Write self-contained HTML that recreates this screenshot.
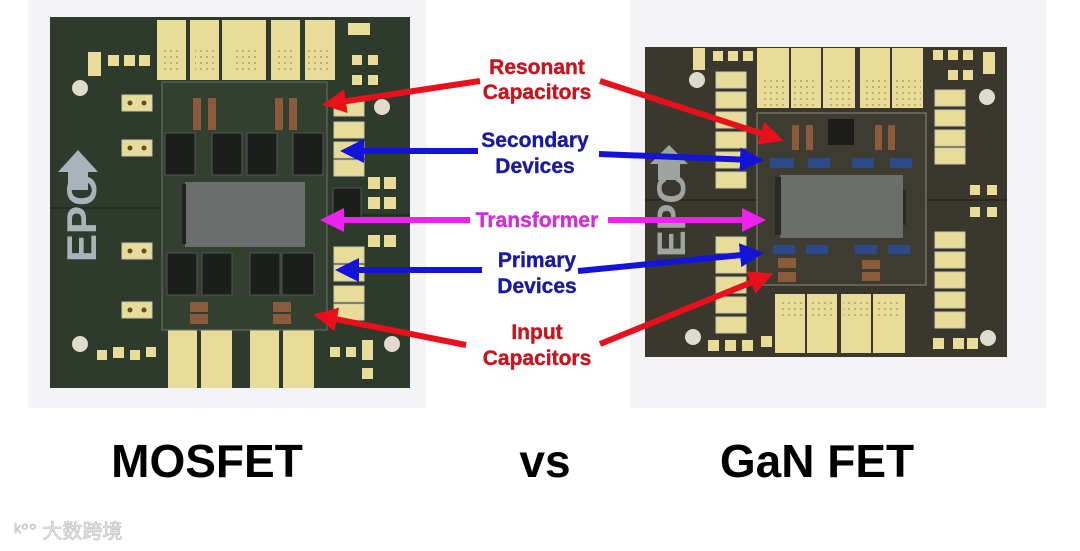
<!DOCTYPE html>
<html><head><meta charset="utf-8"><style>
html,body{margin:0;padding:0;background:#fff;}
svg{display:block;}
</style></head><body>
<svg width="1080" height="551" viewBox="0 0 1080 551" xmlns="http://www.w3.org/2000/svg" font-family="Liberation Sans, Arial, sans-serif">
<defs>
<marker id="ar" markerWidth="4" markerHeight="4" refX="2" refY="2" orient="auto" markerUnits="strokeWidth"><path d="M0,0 L4,2 L0,4z" fill="#e8101a"/></marker>
<marker id="ab" markerWidth="4" markerHeight="4" refX="2" refY="2" orient="auto" markerUnits="strokeWidth"><path d="M0,0 L4,2 L0,4z" fill="#1414d8"/></marker>
<marker id="am" markerWidth="4" markerHeight="4" refX="2" refY="2" orient="auto" markerUnits="strokeWidth"><path d="M0,0 L4,2 L0,4z" fill="#ee22ee"/></marker>
<pattern id="dots" width="6" height="6" patternUnits="userSpaceOnUse"><circle cx="3" cy="3" r="0.8" fill="#8a7a40"/></pattern>
</defs>
<rect width="1080" height="551" fill="#fff"/>
<rect x="28" y="0" width="398" height="408" fill="#f4f4f6"/>
<rect x="630" y="0" width="416" height="408" fill="#f3f3f5"/>

<!-- LEFT BOARD -->
<rect x="50" y="17" width="360" height="371" fill="#2e3a2b"/>
<line x1="50" y1="208" x2="160" y2="208" stroke="#1e281c" stroke-width="1.5"/>
<line x1="330" y1="215" x2="410" y2="215" stroke="#1e281c" stroke-width="1.5"/>
<g fill="#e8dc98">
<rect x="157" y="20" width="29" height="60"/><rect x="190" y="20" width="29" height="60"/><rect x="222" y="20" width="44" height="60"/><rect x="271" y="20" width="29" height="60"/><rect x="305" y="20" width="30" height="60"/>
<rect x="168" y="328" width="29" height="60"/><rect x="201" y="328" width="31" height="60"/><rect x="250" y="328" width="29" height="60"/><rect x="283" y="328" width="31" height="60"/>
<rect x="88" y="52" width="13" height="24"/><rect x="108" y="55" width="11" height="11"/><rect x="124" y="55" width="11" height="11"/><rect x="139" y="55" width="11" height="11"/>
<rect x="348" y="23" width="22" height="12"/>
<rect x="97" y="350" width="10" height="10"/><rect x="113" y="347" width="11" height="11"/><rect x="130" y="350" width="10" height="10"/><rect x="146" y="347" width="10" height="10"/>
<rect x="330" y="347" width="10" height="10"/><rect x="346" y="347" width="10" height="10"/><rect x="362" y="340" width="11" height="20"/><rect x="362" y="368" width="11" height="11"/>
<rect x="352" y="55" width="10" height="10"/><rect x="368" y="55" width="10" height="10"/><rect x="352" y="75" width="10" height="10"/><rect x="368" y="75" width="10" height="10"/>
<rect x="368" y="177" width="12" height="12"/><rect x="384" y="177" width="12" height="12"/><rect x="368" y="197" width="12" height="12"/><rect x="384" y="197" width="12" height="12"/>
<rect x="368" y="235" width="12" height="12"/><rect x="384" y="235" width="12" height="12"/>
</g>
<g fill="#e8dc98" stroke="#c8c8b0" stroke-width="1">
<rect x="122" y="95" width="30" height="16"/><rect x="122" y="140" width="30" height="16"/><rect x="122" y="243" width="30" height="16"/><rect x="122" y="302" width="30" height="16"/>
<rect x="334" y="100" width="30" height="16"/><rect x="334" y="122" width="30" height="16"/><rect x="334" y="142" width="30" height="16"/><rect x="334" y="160" width="30" height="16"/>
<rect x="334" y="247" width="30" height="16"/><rect x="334" y="265" width="30" height="16"/><rect x="334" y="286" width="30" height="16"/><rect x="334" y="304" width="30" height="16"/>
</g>
<g fill="#5a5030"><circle cx="130" cy="103" r="2.5"/><circle cx="144" cy="103" r="2.5"/><circle cx="130" cy="148" r="2.5"/><circle cx="144" cy="148" r="2.5"/><circle cx="130" cy="251" r="2.5"/><circle cx="144" cy="251" r="2.5"/><circle cx="130" cy="310" r="2.5"/><circle cx="144" cy="310" r="2.5"/></g>
<g fill="url(#dots)"><rect x="160" y="50" width="20" height="20"/><rect x="195" y="50" width="20" height="20"/><rect x="232" y="50" width="24" height="20"/><rect x="275" y="50" width="20" height="20"/><rect x="308" y="50" width="20" height="20"/></g>
<g fill="#e0dccc"><circle cx="80" cy="88" r="8"/><circle cx="80" cy="344" r="8"/><circle cx="382" cy="107" r="8"/><circle cx="392" cy="344" r="8"/></g>
<path d="M78 150 L58 172 L68 172 L68 190 L88 190 L88 172 L98 172 Z" fill="#a8b4bc"/>
<text transform="translate(96,262) rotate(-90)" font-size="42" font-weight="bold" fill="#a8b4bc">EPC</text>
<rect x="162" y="82" width="165" height="248" fill="#34402f" stroke="#6a7468" stroke-width="1"/>
<rect x="185" y="182" width="120" height="65" fill="#6a6e6c"/>
<rect x="182" y="184" width="4" height="60" fill="#222"/>
<g fill="#1c1e1c" stroke="#555" stroke-width="1">
<rect x="165" y="133" width="30" height="42"/><rect x="212" y="133" width="30" height="42"/><rect x="247" y="133" width="30" height="42"/><rect x="293" y="133" width="30" height="42"/>
<rect x="167" y="253" width="30" height="42"/><rect x="202" y="253" width="30" height="42"/><rect x="250" y="253" width="30" height="42"/><rect x="282" y="253" width="32" height="42"/>
<rect x="333" y="188" width="28" height="30"/>
</g>
<g fill="#8a5a3a"><rect x="193" y="98" width="8" height="32"/><rect x="208" y="98" width="8" height="32"/><rect x="275" y="98" width="8" height="32"/><rect x="289" y="98" width="8" height="32"/>
<rect x="190" y="302" width="18" height="10"/><rect x="190" y="314" width="18" height="10"/><rect x="273" y="302" width="18" height="10"/><rect x="273" y="314" width="18" height="10"/></g>

<!-- RIGHT BOARD -->
<rect x="645" y="47" width="362" height="310" fill="#3a382c"/>
<line x1="645" y1="200" x2="757" y2="200" stroke="#26251c" stroke-width="1.5"/>
<line x1="926" y1="200" x2="1007" y2="200" stroke="#26251c" stroke-width="1.5"/>
<g fill="#e8dc98">
<rect x="757" y="48" width="32" height="60"/><rect x="791" y="48" width="30" height="60"/><rect x="823" y="48" width="32" height="60"/><rect x="860" y="48" width="30" height="60"/><rect x="892" y="48" width="31" height="60"/>
<rect x="775" y="294" width="30" height="59"/><rect x="807" y="294" width="30" height="59"/><rect x="841" y="294" width="30" height="59"/><rect x="873" y="294" width="32" height="59"/>
<rect x="693" y="48" width="12" height="22"/><rect x="713" y="51" width="10" height="10"/><rect x="728" y="51" width="10" height="10"/><rect x="743" y="51" width="10" height="10"/>
<rect x="933" y="50" width="10" height="10"/><rect x="948" y="50" width="10" height="10"/><rect x="963" y="50" width="10" height="10"/><rect x="983" y="52" width="12" height="22"/>
<rect x="948" y="70" width="10" height="10"/><rect x="963" y="70" width="10" height="10"/>
<rect x="970" y="185" width="10" height="10"/><rect x="987" y="185" width="10" height="10"/><rect x="970" y="207" width="10" height="10"/><rect x="987" y="207" width="10" height="10"/>
<rect x="708" y="340" width="11" height="11"/><rect x="725" y="340" width="11" height="11"/><rect x="742" y="340" width="11" height="11"/><rect x="761" y="336" width="11" height="11"/>
<rect x="933" y="338" width="11" height="11"/><rect x="953" y="338" width="11" height="11"/><rect x="967" y="338" width="11" height="11"/>
</g>
<g fill="#e8dc98" stroke="#c8c8b0" stroke-width="1">
<rect x="716" y="72" width="30" height="16"/><rect x="716" y="92" width="30" height="16"/><rect x="716" y="112" width="30" height="16"/><rect x="716" y="132" width="30" height="16"/><rect x="716" y="152" width="30" height="16"/><rect x="716" y="172" width="30" height="16"/>
<rect x="716" y="237" width="30" height="16"/><rect x="716" y="257" width="30" height="16"/><rect x="716" y="277" width="30" height="16"/><rect x="716" y="297" width="30" height="16"/><rect x="716" y="317" width="30" height="16"/>
<rect x="935" y="90" width="30" height="16"/><rect x="935" y="110" width="30" height="16"/><rect x="935" y="130" width="30" height="16"/><rect x="935" y="148" width="30" height="16"/>
<rect x="935" y="232" width="30" height="16"/><rect x="935" y="252" width="30" height="16"/><rect x="935" y="272" width="30" height="16"/><rect x="935" y="292" width="30" height="16"/><rect x="935" y="312" width="30" height="16"/>
</g>
<g fill="url(#dots)"><rect x="760" y="80" width="26" height="26"/><rect x="794" y="80" width="24" height="26"/><rect x="826" y="80" width="26" height="26"/><rect x="862" y="80" width="26" height="26"/><rect x="895" y="80" width="26" height="26"/>
<rect x="778" y="298" width="26" height="22"/><rect x="809" y="298" width="26" height="22"/><rect x="843" y="298" width="26" height="22"/><rect x="875" y="298" width="26" height="22"/></g>
<g fill="#e0dccc"><circle cx="697" cy="80" r="8"/><circle cx="987" cy="97" r="8"/><circle cx="693" cy="337" r="8"/><circle cx="988" cy="338" r="8"/></g>
<path d="M669 145 L650 164 L658 164 L658 180 L680 180 L680 164 L688 164 Z" fill="#9ea4a0"/>
<text transform="translate(685,257) rotate(-90)" font-size="40" font-weight="bold" fill="#9ea4a0">EPC</text>
<rect x="757" y="113" width="169" height="172" fill="#3e3c30" stroke="#8a8a80" stroke-width="1"/>
<rect x="780" y="175" width="123" height="63" fill="#6c6e6c"/>
<rect x="775" y="177" width="6" height="58" fill="#2a2a24"/>
<rect x="903" y="190" width="3" height="35" fill="#2a2a24"/>
<rect x="828" y="119" width="26" height="26" fill="#1c1c1a"/>
<g fill="#8a5a3a"><rect x="792" y="125" width="7" height="25"/><rect x="806" y="125" width="7" height="25"/><rect x="875" y="125" width="7" height="25"/><rect x="888" y="125" width="7" height="25"/>
<rect x="778" y="258" width="18" height="10"/><rect x="778" y="272" width="18" height="10"/><rect x="862" y="260" width="18" height="9"/><rect x="862" y="272" width="18" height="9"/></g>
<g fill="#2a4a8a"><rect x="770" y="158" width="24" height="10"/><rect x="808" y="158" width="22" height="10"/><rect x="852" y="158" width="22" height="10"/><rect x="890" y="158" width="22" height="10"/>
<rect x="773" y="245" width="22" height="9"/><rect x="806" y="245" width="22" height="9"/><rect x="855" y="245" width="22" height="9"/><rect x="888" y="245" width="22" height="9"/></g>

<!-- ARROWS -->
<g stroke-width="6" fill="none">
<line x1="480" y1="81" x2="334" y2="103" stroke="#e8101a" marker-end="url(#ar)"/>
<line x1="600" y1="81" x2="772" y2="137" stroke="#e8101a" marker-end="url(#ar)"/>
<line x1="478" y1="151" x2="352" y2="151" stroke="#1414d8" marker-end="url(#ab)"/>
<line x1="599" y1="154" x2="752" y2="160" stroke="#1414d8" marker-end="url(#ab)"/>
<line x1="470" y1="220" x2="332" y2="220" stroke="#ee22ee" marker-end="url(#am)"/>
<line x1="608" y1="220" x2="754" y2="220" stroke="#ee22ee" marker-end="url(#am)"/>
<line x1="482" y1="270" x2="347" y2="270" stroke="#1414d8" marker-end="url(#ab)"/>
<line x1="578" y1="271" x2="752" y2="254" stroke="#1414d8" marker-end="url(#ab)"/>
<line x1="466" y1="345" x2="325" y2="317" stroke="#e8101a" marker-end="url(#ar)"/>
<line x1="600" y1="344" x2="762" y2="278" stroke="#e8101a" marker-end="url(#ar)"/>
</g>
<g font-weight="bold" font-size="21" text-anchor="middle" stroke-width="0.4">
<text x="537" y="74" fill="#c8141e" stroke="#c8141e">Resonant</text>
<text x="537" y="99" fill="#c8141e" stroke="#c8141e">Capacitors</text>
<text x="535" y="147" fill="#1a1aa0" stroke="#1a1aa0">Secondary</text>
<text x="535" y="173" fill="#1a1aa0" stroke="#1a1aa0">Devices</text>
<text x="537" y="227" fill="#d030d0" stroke="#d030d0">Transformer</text>
<text x="537" y="267" fill="#1a1aa0" stroke="#1a1aa0">Primary</text>
<text x="537" y="293" fill="#1a1aa0" stroke="#1a1aa0">Devices</text>
<text x="537" y="339" fill="#c8141e" stroke="#c8141e">Input</text>
<text x="537" y="365" fill="#c8141e" stroke="#c8141e">Capacitors</text>
</g>
<g font-weight="bold" font-size="46" text-anchor="middle" fill="#000">
<text x="207" y="477">MOSFET</text>
<text x="545" y="477">vs</text>
<text x="817" y="477">GaN FET</text>
</g>
<text x="14" y="538" font-size="20" fill="#e6e6e6" stroke="#bbb" stroke-width="0.6" font-family="Liberation Sans, Noto Sans CJK SC, sans-serif">ᵏ°° 大数跨境</text>
</svg>
</body></html>
